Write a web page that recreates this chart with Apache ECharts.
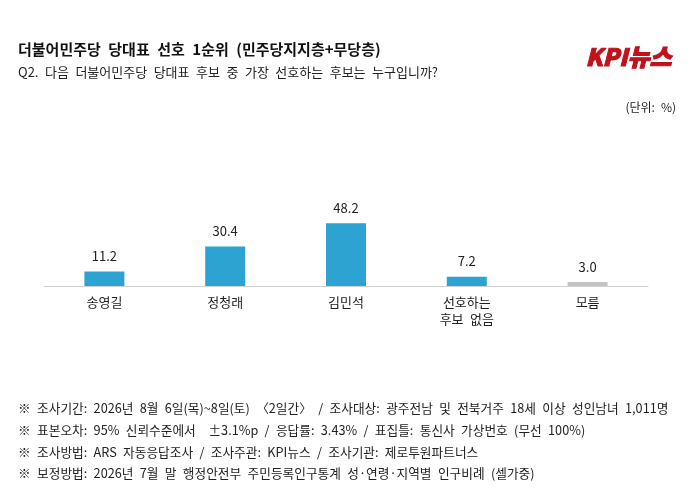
<!DOCTYPE html>
<html><head><meta charset="utf-8">
<script src="https://cdn.jsdelivr.net/npm/echarts@6/dist/echarts.min.js"></script>
<style>html,body{margin:0;padding:0;background:#fff}#c{width:691px;height:492px}</style>
</head><body><div id="c"></div>
<script>
const categories = ['송영길', '정청래', '김민석', '선호하는\n후보 없음', '모름'];
const values = [11.2, 30.4, 48.2, 7.2, 3.0];
const barColors = ['#2ca3d0', '#2ca3d0', '#2ca3d0', '#2ca3d0', '#c3c3c3'];
const titleText = '더불어민주당 당대표 선호 1순위 (민주당지지층+무당층)';
const subText = 'Q2. 다음 더불어민주당 당대표 후보 중 가장 선호하는 후보는 누구입니까?';
const unitText = '(단위: %)';
const logoText = 'KPI뉴스';
const notes = [
  '※ 조사기간: 2026년 8월 6일(목)~8일(토) 〈2일간〉 / 조사대상: 광주전남 및 전북거주 18세 이상 성인남녀 1,011명',
  '※ 표본오차: 95% 신뢰수준에서  ±3.1%p / 응답률: 3.43% / 표집틀: 통신사 가상번호 (무선 100%)',
  '※ 조사방법: ARS 자동응답조사 / 조사주관: KPI뉴스 / 조사기관: 제로투원파트너스',
  '※ 보정방법: 2026년 7월 말 행정안전부 주민등록인구통계 성·연령·지역별 인구비례 (셀가중)'
];
const F = '"Noto Sans CJK KR", "Noto Sans", sans-serif';
// wider word spacing, like the reference typeface
const ws = s => s.replace(/ /g, '\u2002');
const chart = echarts.init(document.getElementById('c'));
chart.setOption({
  animation: false,
  grid: {left: 44, right: 43, top: 156, bottom: 206},
  xAxis: {
    type: 'category', data: categories,
    axisLine: {lineStyle: {color: '#d0d0d0', width: 1}},
    axisTick: {show: false},
    axisLabel: {color: '#222', fontSize: 13, fontFamily: F, margin: 8, lineHeight: 17, interval: 0,
      formatter: v => ws(v)}
  },
  yAxis: {type: 'value', min: 0, max: 100, show: false, splitLine: {show: false}},
  series: [{
    type: 'bar', barWidth: 40,
    data: values.map((v, i) => ({value: v, itemStyle: {color: barColors[i]}})),
    label: {show: true, position: 'top', distance: 9, color: '#222', fontSize: 13, fontFamily: F,
      formatter: p => p.value.toFixed(1)}
  }],
  graphic: [
    {type: 'text', left: 18, top: 42, style: {text: ws(titleText), font: 'bold 15px ' + F, fill: '#111'}},
    {type: 'text', left: 18, top: 66, style: {text: ws(subText), font: '13px ' + F, fill: '#222'}},
    {type: 'text', right: 15, top: 101, style: {text: ws(unitText), font: '12px ' + F, fill: '#222'}},
    {type: 'text', left: 585, top: 44, style: {text: logoText, font: 'italic 900 24px ' + F, fill: '#c0121b', stroke: '#c0121b', lineWidth: 1}},
    ...notes.map((t, i) => ({type: 'text', left: 18, top: 402 + i * 21.7, style: {text: ws(t), font: '12.7px ' + F, fill: '#222'}}))
  ]
});
</script></body></html>
